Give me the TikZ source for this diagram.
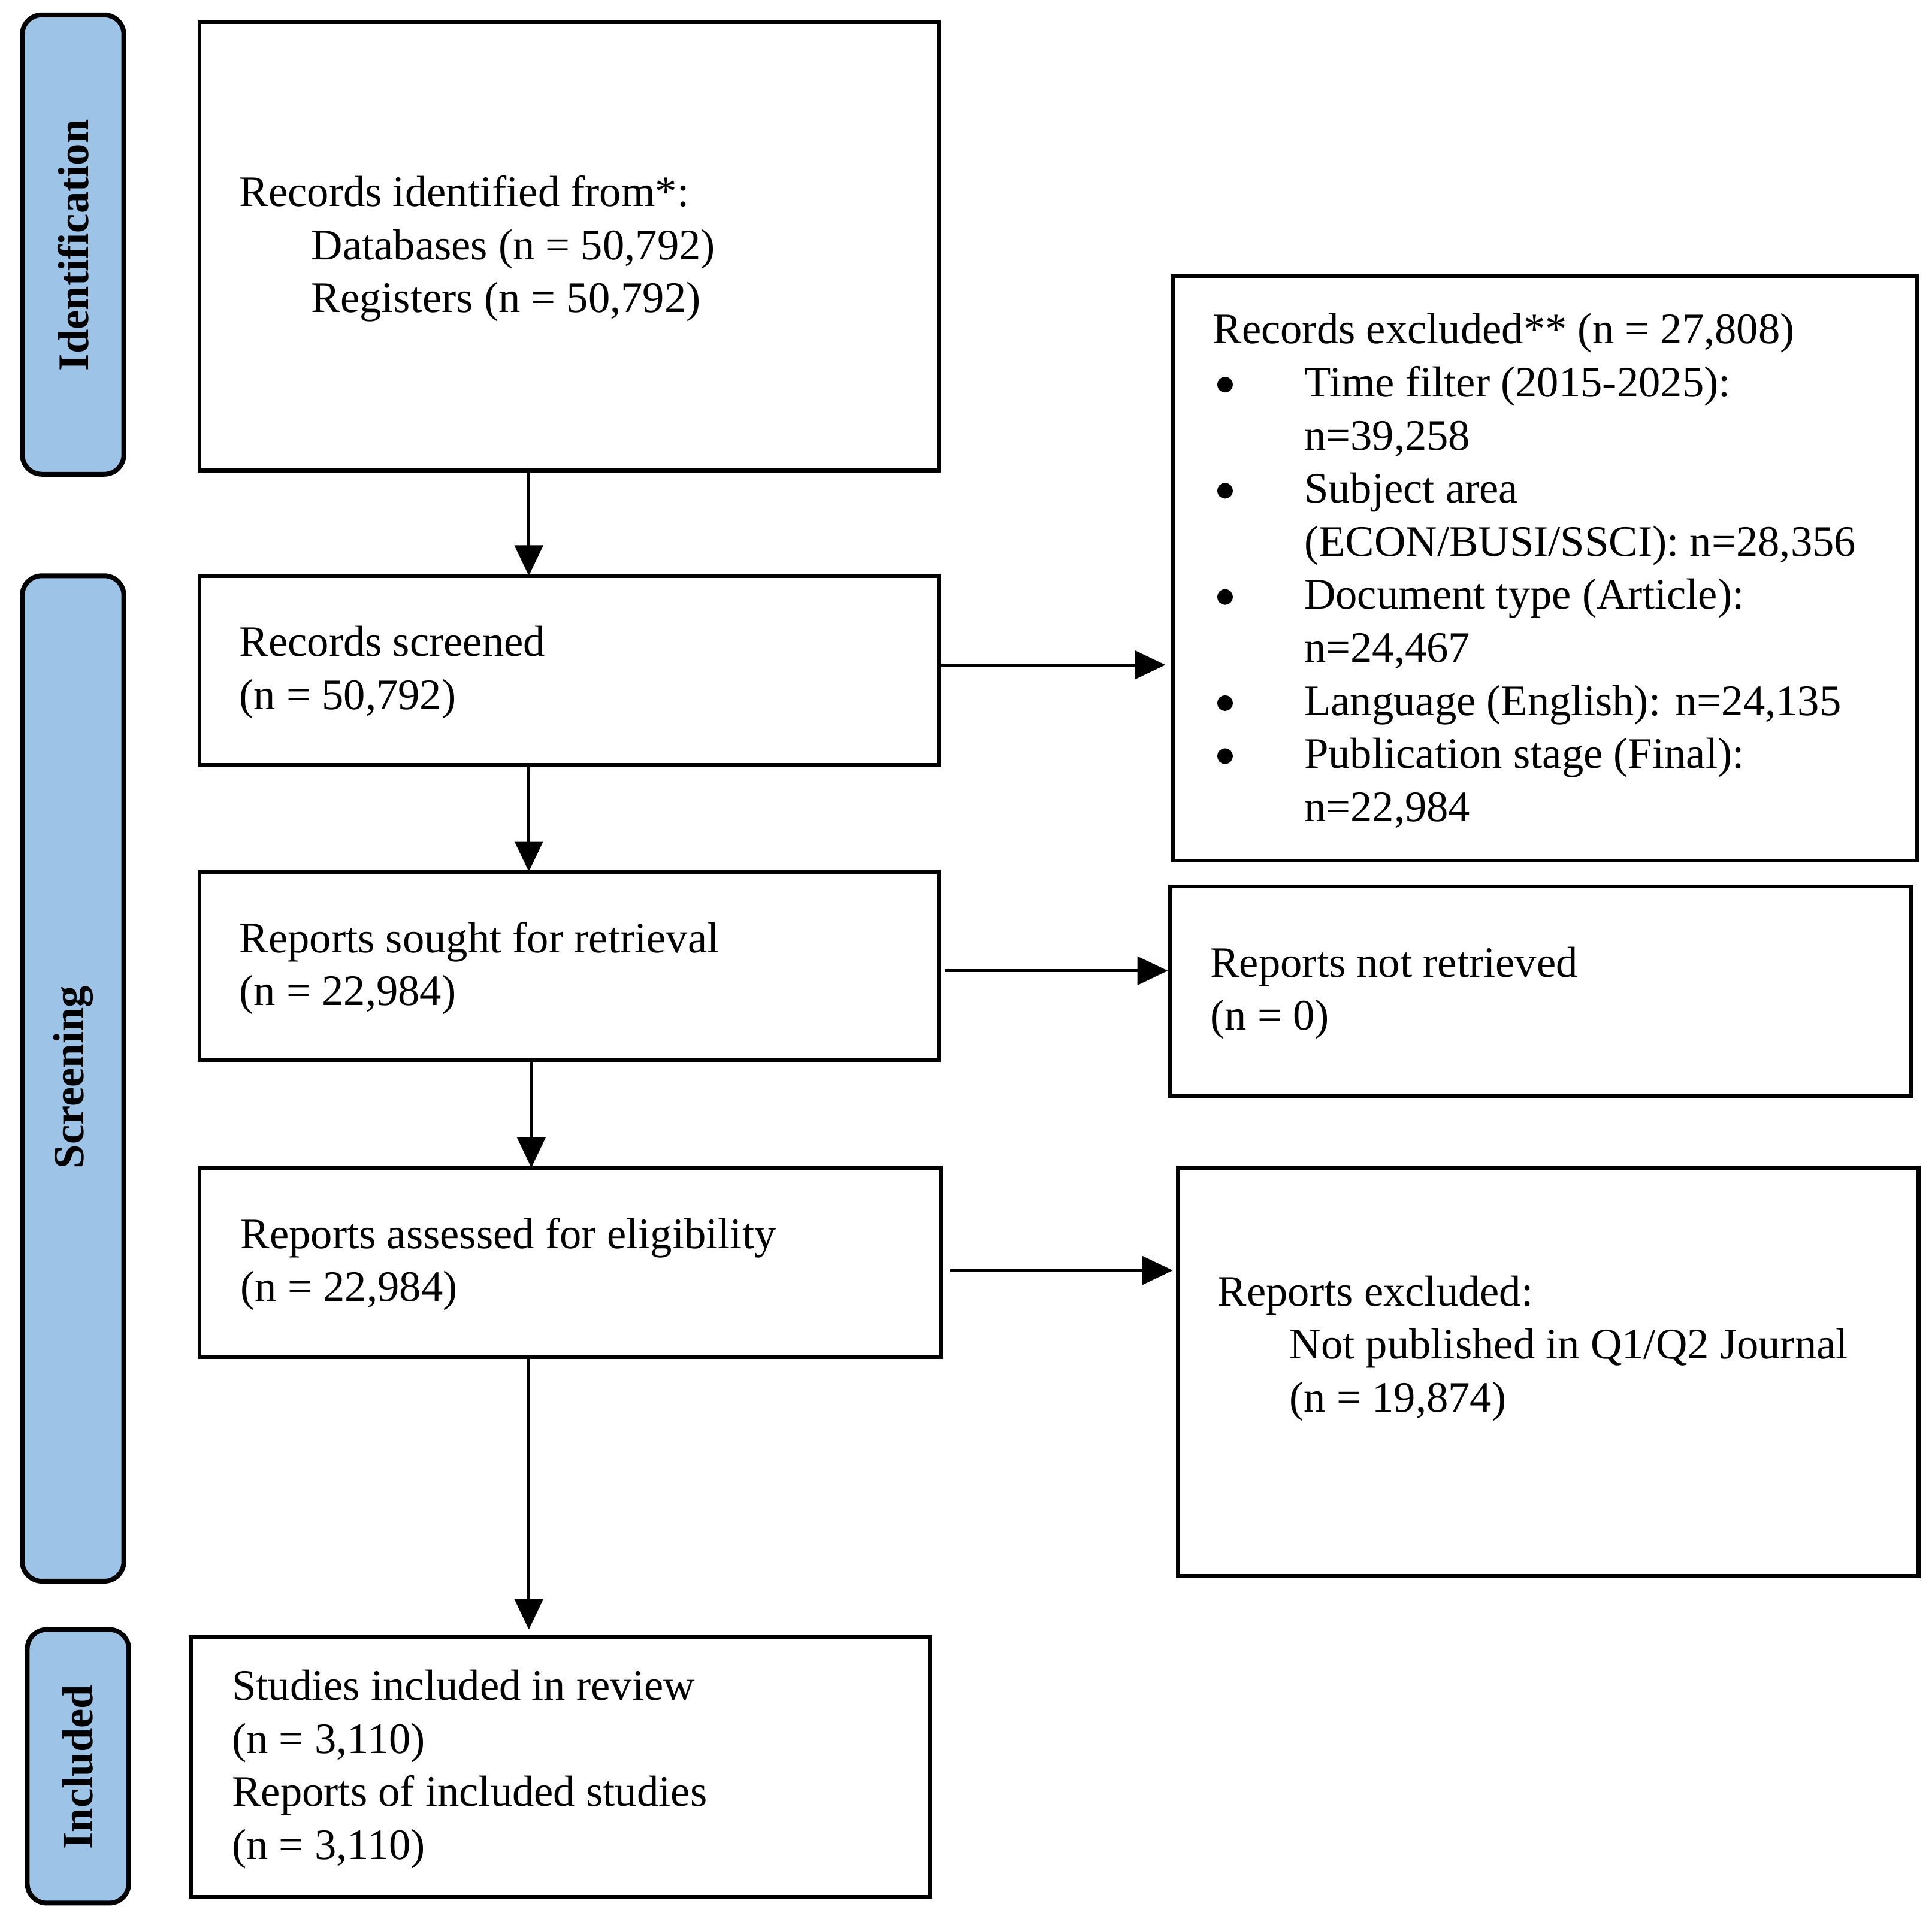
\documentclass[tikz,border=0pt]{standalone}
\usepackage{fontspec}
\setmainfont{Liberation Serif}
\usetikzlibrary{arrows.meta}
\newcommand{\mybul}{\makebox[42pt][l]{\hspace{2pt}\raisebox{2pt}{\tikz\fill (0,0) circle (3.6pt);}}}
\begin{document}
\begin{tikzpicture}[x=0.02cm,y=-0.02cm,
  box/.style={draw,line width=1.8pt},
  phase/.style={draw,line width=2.2pt,rounded corners=9pt,fill=phaseblue},
  plab/.style={rotate=90,font=\fontsize{20}{24}\selectfont\bfseries},
  txt/.style={anchor=west,align=left,inner sep=0pt,font=\fontsize{20}{24.4}\selectfont},
  arr/.style={line width=1.3pt,-{Triangle[length=14pt,width=13pt]}}]
\definecolor{phaseblue}{HTML}{9DC3E6}
\useasboundingbox (0,0) rectangle (1560,1545);
% phases
\draw[phase] (18,12) rectangle (100,383);
\draw[phase] (18,465) rectangle (100,1277);
\draw[phase] (22,1316) rectangle (104,1537);
\node[plab] (pid) at (59,198) {Identification};
\node[plab] (psc) at (59,870) {Screening};
\node[plab] (pin) at (63,1427) {Included};
% boxes
\draw[box] (161,18) rectangle (758,380);
\draw[box] (161,465) rectangle (758,618);
\draw[box] (161,704) rectangle (758,856);
\draw[box] (161,943) rectangle (760,1096);
\draw[box] (154,1322) rectangle (751,1532);
\draw[box] (947,223) rectangle (1548,695);
\draw[box] (945,716) rectangle (1543,885);
\draw[box] (951,943) rectangle (1549,1273);
% texts
\node[txt] (t1) at (193,201) {Records identified from*:\\\hspace{33pt}Databases (n = 50,792)\\\hspace{33pt}Registers (n = 50,792)};
\node[txt] (t2) at (193,543) {Records screened\\(n = 50,792)};
\node[txt] (t3) at (193,782) {Reports sought for retrieval\\(n = 22,984)};
\node[txt] (t4) at (194,1021) {Reports assessed for eligibility\\(n = 22,984)};
\node[txt] (t5) at (187,1429) {Studies included in review\\(n = 3,110)\\Reports of included studies\\(n = 3,110)};
\node[txt] (r1) at (979,461) {Records excluded** (n = 27,808)\\
\mybul Time filter (2015-2025):\\\hspace{42pt}n=39,258\\
\mybul Subject area\\\hspace{42pt}(ECON/BUSI/SSCI): n=28,356\\
\mybul Document type (Article):\\\hspace{42pt}n=24,467\\
\mybul Language (English): n=24,135\\
\mybul Publication stage (Final):\\\hspace{42pt}n=22,984};
\node[txt] (r2) at (977,802) {Reports not retrieved\\(n = 0)};
\node[txt] (r3) at (983,1089) {Reports excluded:\\\hspace{33pt}Not published in Q1/Q2 Journal\\\hspace{33pt}(n = 19,874)};
% arrows
\coordinate (a1s) at (427,380); \coordinate (a1e) at (427,465);
\coordinate (a2s) at (427,618); \coordinate (a2e) at (427,704);
\coordinate (a3s) at (429,856); \coordinate (a3e) at (429,943);
\coordinate (a4s) at (427,1096); \coordinate (a4e) at (427,1316);
\coordinate (h1s) at (760,537); \coordinate (h1e) at (941,537);
\coordinate (h2s) at (763,784); \coordinate (h2e) at (943,784);
\coordinate (h3s) at (767,1026); \coordinate (h3e) at (947,1026);
\foreach \a in {a1,a2,a3,a4,h1,h2,h3} \draw[arr] (\a s) -- (\a e);
\end{tikzpicture}
\end{document}
